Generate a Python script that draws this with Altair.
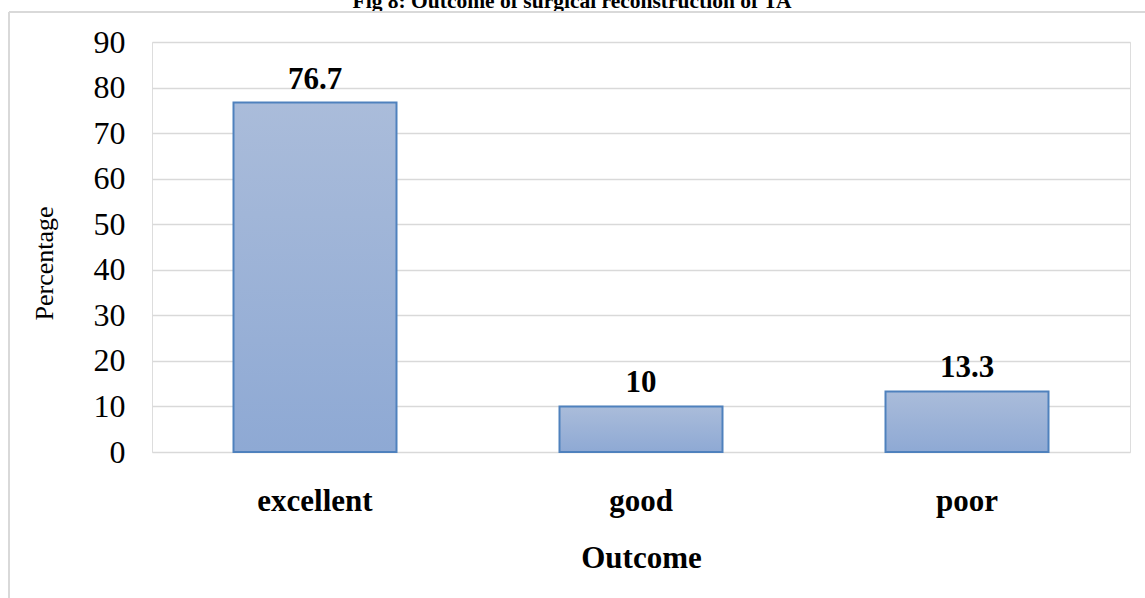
import altair as alt
import pandas as pd

# Outcome categories and their percentages
outcomes = ["excellent", "good", "poor"]
percentages = [76.7, 10, 13.3]

title_text = ["Fig 8: Outcome of surgical reconstruction of TA"]
font = "Liberation Serif"

df = pd.DataFrame({"Outcome": outcomes, "Percentage": percentages})

base = alt.Chart(df)

x_enc = alt.X(
    "Outcome:N",
    sort=outcomes,
    scale=alt.Scale(paddingInner=0.5, paddingOuter=0.25),
    axis=alt.Axis(
        title="Outcome",
        labelAngle=0,
        labelFont=font,
        labelFontSize=31,
        labelFontWeight="bold",
        labelColor="black",
        labelBaseline="alphabetic",
        labelPadding=58,
        ticks=False,
        domain=False,
        grid=False,
        titleFont=font,
        titleFontSize=31,
        titleFontWeight="bold",
        titleColor="black",
        titleBaseline="alphabetic",
        titleY=115,
    ),
)

y_enc = alt.Y(
    "Percentage:Q",
    scale=alt.Scale(domain=[0, 90], nice=False),
    axis=alt.Axis(
        values=list(range(0, 91, 10)),
        title="Percentage",
        labelFont=font,
        labelFontSize=32,
        labelColor="black",
        labelPadding=27,
        ticks=False,
        domain=False,
        gridColor="#D9D9D9",
        gridWidth=1.5,
        titleFont=font,
        titleFontSize=26,
        titleFontWeight="normal",
        titleColor="black",
        titleAngle=270,
        titleAlign="center",
        titleBaseline="middle",
        titleX=-108,
        titleY=221,
    ),
)

bars = base.mark_bar(
    color=alt.Gradient(
        gradient="linear",
        x1=0, x2=0, y1=0, y2=1,
        stops=[
            alt.GradientStop(color="#AABCDA", offset=0),
            alt.GradientStop(color="#8EA9D4", offset=1),
        ],
    ),
    stroke="#4F81BD",
    strokeWidth=2,
).encode(x=x_enc, y=y_enc)

labels = base.mark_text(
    font=font,
    fontSize=31,
    fontWeight="bold",
    color="black",
    baseline="alphabetic",
    dy=-14,
).encode(
    x=alt.X("Outcome:N", sort=outcomes),
    y=alt.Y("Percentage:Q"),
    text=alt.Text("Percentage:Q", format=".3~g"),
)

# figure caption, sitting at the very top edge of the page
caption = alt.Chart(pd.DataFrame({"caption": title_text})).mark_text(
    font=font,
    fontSize=21.5,
    fontWeight="bold",
    color="black",
    align="center",
    baseline="alphabetic",
).encode(
    x=alt.value(420),
    y=alt.value(-34),
    text="caption:N",
)

# light outer frame around the chart area
frame_left = base.mark_rule(color="#D9D9D9", strokeWidth=2).encode(
    x=alt.value(-143), y=alt.value(-30), y2=alt.value(560)
)
frame_top = base.mark_rule(color="#D9D9D9", strokeWidth=2).encode(
    x=alt.value(-143), x2=alt.value(1000), y=alt.value(-30)
)

chart = (
    alt.layer(caption, frame_left, frame_top, bars, labels)
    .properties(
        width=978,
        height=410,
        autosize=alt.AutoSizeParams(type="none"),
        padding={"left": 152, "top": 42, "right": 15, "bottom": 146},
    )
    .configure_view(stroke=None)
    .configure(background="white")
)

chart.save("out.html", embed_options={"renderer": "svg", "actions": False})
